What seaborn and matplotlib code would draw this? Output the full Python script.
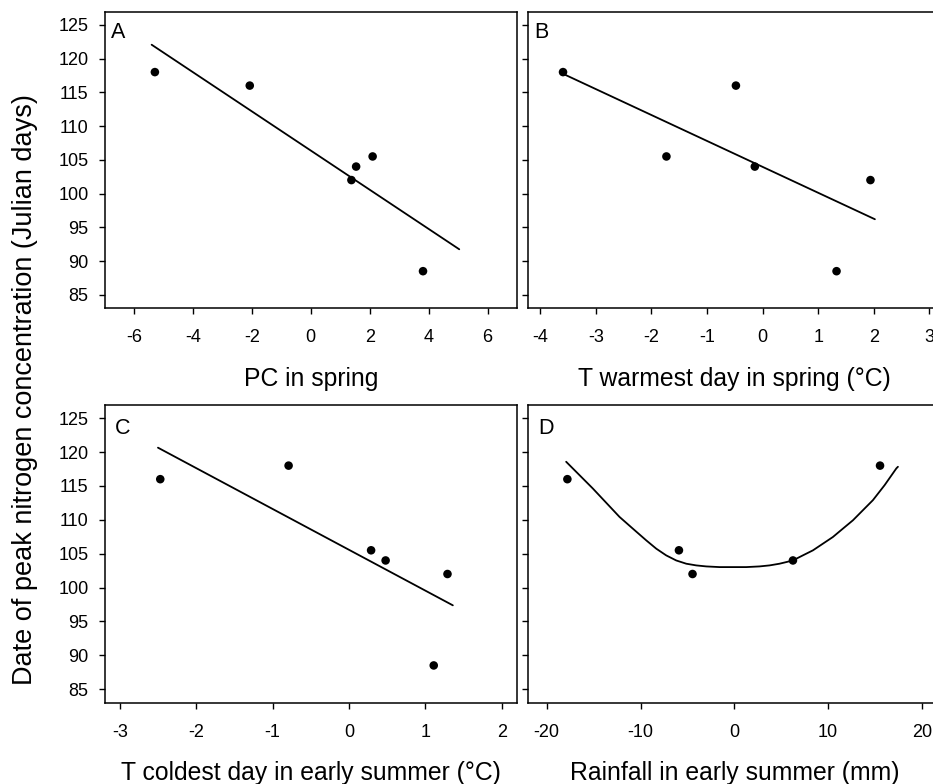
import numpy as np
import pandas as pd
import matplotlib
matplotlib.use("Agg")
import matplotlib.pyplot as plt
import seaborn as sns

# ---------------- data ----------------
y_label = "Date of peak nitrogen concentration (Julian days)"

a_x = [-5.29, -2.07, 1.38, 1.54, 2.10, 3.81]
a_y = [118, 116, 102, 104, 105.5, 88.5]
a_fit_range = [-5.4, 5.04]

b_x = [-3.59, -1.73, -0.48, -0.14, 1.33, 1.94]
b_y = [118, 105.5, 116, 104, 88.5, 102]
b_fit_range = [-3.59, 2.02]

c_x = [-2.47, -0.79, 0.29, 0.48, 1.11, 1.29]
c_y = [116, 118, 105.5, 104, 88.5, 102]
c_fit_range = [-2.5, 1.36]

d_x = [-17.8, -5.9, -4.45, 6.26, 15.55]
d_y = [116, 105.5, 102, 104, 118]
d_curve_x = [-17.93, -15.09, -12.24, -10.82, -9.39, -8.32, -7.26, -6.19, -5.12,
             -4.06, -2.99, -1.57, -0.15, 1.28, 2.70, 3.77, 4.83, 5.55, 6.25,
             7.32, 8.39, 9.46, 10.52, 11.59, 12.66, 13.72, 14.79, 16.04, 17.29, 17.46]
d_curve_y = [118.57, 114.63, 110.43, 108.70, 106.97, 105.74, 104.75, 104.00, 103.52,
             103.27, 103.12, 103.02, 103.02, 103.02, 103.12, 103.27, 103.52, 103.76, 104.00,
             104.75, 105.49, 106.48, 107.46, 108.70, 109.93, 111.41, 112.90, 115.12, 117.59, 117.83]

panel_letters = ["A", "B", "C", "D"]
x_labels = ["PC in spring", "T warmest day in spring (\u00b0C)",
            "T coldest day in early summer (\u00b0C)", "Rainfall in early summer (mm)"]
x_ticks = [[-6, -4, -2, 0, 2, 4, 6], [-4, -3, -2, -1, 0, 1, 2, 3],
           [-3, -2, -1, 0, 1, 2], [-20, -10, 0, 10, 20]]
x_limits = [(-7, 7), (-4.22, 3.2), (-3.2, 2.2), (-22, 22)]
y_ticks = [85, 90, 95, 100, 105, 110, 115, 120, 125]
y_limits = (83, 126.95)

# ---------------- style ----------------
sns.set_theme(style="ticks")
plt.rcParams["font.family"] = ["Liberation Sans", "DejaVu Sans"]
plt.rcParams["axes.edgecolor"] = "black"
plt.rcParams["axes.linewidth"] = 1.1

fig = plt.figure(figsize=(9.33, 7.84), dpi=100)
W, H = 933.0, 784.0
lefts = [104.5 / W, 528 / W]
width = 412.5 / W
rows = [(1 - 308.3 / H, 296.6 / H), (1 - 702.7 / H, 297.7 / H)]

positions = [
    [lefts[0], rows[0][0], width, rows[0][1]],
    [lefts[1], rows[0][0], width, rows[0][1]],
    [lefts[0], rows[1][0], width, rows[1][1]],
    [lefts[1], rows[1][0], width, rows[1][1]],
]

points = [(a_x, a_y), (b_x, b_y), (c_x, c_y), (d_x, d_y)]
fit_ranges = [a_fit_range, b_fit_range, c_fit_range, None]
letter_offsets = [(0.016, 0.965), (0.016, 0.965), (0.026, 0.958), (0.024, 0.958)]

for i in range(4):
    ax = fig.add_axes(positions[i])
    px, py = points[i]
    df = pd.DataFrame({"x": px, "y": py})
    sns.scatterplot(data=df, x="x", y="y", ax=ax, color="black", s=38,
                    edgecolor="none", zorder=3)
    if fit_ranges[i] is not None:
        slope, intercept = np.polyfit(px, py, 1)
        fx = np.array(fit_ranges[i])
        fdf = pd.DataFrame({"x": fx, "y": slope * fx + intercept})
    else:
        fdf = pd.DataFrame({"x": d_curve_x, "y": d_curve_y})
    sns.lineplot(data=fdf, x="x", y="y", ax=ax, color="black", linewidth=1.3,
                 sort=False, estimator=None)

    ax.set_xlim(*x_limits[i])
    ax.set_ylim(*y_limits)
    ax.set_xticks(x_ticks[i])
    ax.set_xticklabels([str(t) for t in x_ticks[i]])
    ax.set_yticks(y_ticks)
    if i in (0, 2):
        ax.set_yticklabels([str(t) for t in y_ticks])
    else:
        ax.set_yticklabels([])
    ax.tick_params(axis="both", direction="out", length=4.5, width=1,
                   color="black", labelsize=13, labelcolor="black")
    ax.tick_params(axis="x", pad=10.5)
    ax.tick_params(axis="y", pad=7)
    for sp in ax.spines.values():
        sp.set_visible(True)
        sp.set_color("black")
        sp.set_linewidth(1.1)
    ax.set_xlabel(x_labels[i], fontsize=17.8, labelpad=15, color="black")
    ax.set_ylabel("")
    ax.text(letter_offsets[i][0], letter_offsets[i][1], panel_letters[i],
            transform=ax.transAxes, fontsize=15.5, ha="left", va="top", color="black")
    ax.grid(False)

fig.text(25 / W, 1 - 390 / H, y_label, rotation=90, ha="center", va="center",
         fontsize=19.5, color="black")

fig.savefig("out.png", dpi=100)
